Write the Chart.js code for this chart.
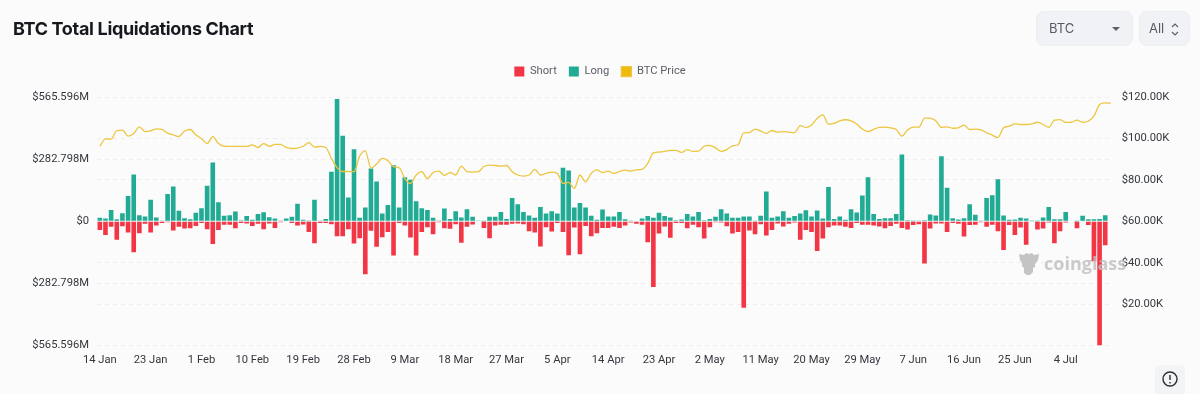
<!DOCTYPE html>
<html>
<head>
<meta charset="utf-8">
<title>BTC Total Liquidations Chart</title>
<script src="https://cdn.jsdelivr.net/npm/chart.js@4"></script>
<style>
  html, body { margin: 0; padding: 0; background: #fbfbfb; overflow: hidden; }
  #wrap { position: relative; width: 1200px; height: 394px; font-family: Inter, sans-serif; }
  canvas { position: absolute; left: 0; top: 0; }
  h1 { position: absolute; left: 13px; top: 17px; margin: 0; font-size: 18px; letter-spacing: -0.33px; line-height: 24px; font-weight: 700; color: #15181d; }
  .btn { position: absolute; top: 12px; height: 33px; line-height: 33px; background: #f0f2f5; border-radius: 7px; box-shadow: 0 0 0 1px #eceef1; color: #555b64; font-size: 13px; }
  .wm { position: absolute; left: 1017px; top: 251px; width: 100px; height: 26px; pointer-events: none; }
  .wm span { position: absolute; left: 27px; top: 0; font: 700 18px/24px "Open Sans", sans-serif; color: rgba(190,190,190,.8); }
  .wm svg { position: absolute; left: 0; top: 0; }
  .info { position: absolute; left: 1155px; top: 365px; width: 30px; height: 29px; background: #f2f4f6; border-radius: 5px 5px 0 0; }
</style>
</head>
<body>
<div id="wrap">
  <canvas id="liqChart" width="1200" height="394"></canvas>
  <h1>BTC Total Liquidations Chart</h1>
  <div class="btn" style="left:1037px;width:95px">
    <span style="position:absolute;left:12px">BTC</span>
    <svg style="position:absolute;left:74px;top:14px" width="10" height="6"><path d="M1 1h8L5 5z" fill="#5c626b"/></svg>
  </div>
  <div class="btn" style="left:1140px;width:49px">
    <span style="position:absolute;left:9px">All</span>
    <svg style="position:absolute;left:30px;top:10px" width="10" height="15" fill="none" stroke="#5c626b" stroke-width="1.2"><path d="M2 5l3-3 3 3M2 10l3 3 3-3"/></svg>
  </div>
  <div class="wm">
    <svg width="24" height="26"><path d="M2 3l5 1 2-2 3 1 3-1 2 2 5-1-1 6-3 4v3l-2 1v4l-3 3h-3l-3-2v-5l-2-2v-3L3 9z" fill="rgba(190,190,190,.9)"/></svg>
    <span>coinglass</span>
  </div>
  <div class="info">
    <svg width="30" height="29" fill="none" stroke="#2b2f36" stroke-width="1.4"><circle cx="15" cy="14" r="7"/><path d="M15 10v5M15 17v1.4"/></svg>
  </div>
</div>
<script>
const categories = [
  "14 Jan","15 Jan","16 Jan","17 Jan","18 Jan","19 Jan","20 Jan","21 Jan","22 Jan","23 Jan",
  "24 Jan","25 Jan","26 Jan","27 Jan","28 Jan","29 Jan","30 Jan","31 Jan","1 Feb","2 Feb",
  "3 Feb","4 Feb","5 Feb","6 Feb","7 Feb","8 Feb","9 Feb","10 Feb","11 Feb","12 Feb",
  "13 Feb","14 Feb","15 Feb","16 Feb","17 Feb","18 Feb","19 Feb","20 Feb","21 Feb","22 Feb",
  "23 Feb","24 Feb","25 Feb","26 Feb","27 Feb","28 Feb","1 Mar","2 Mar","3 Mar","4 Mar",
  "5 Mar","6 Mar","7 Mar","8 Mar","9 Mar","10 Mar","11 Mar","12 Mar","13 Mar","14 Mar",
  "15 Mar","16 Mar","17 Mar","18 Mar","19 Mar","20 Mar","21 Mar","22 Mar","23 Mar","24 Mar",
  "25 Mar","26 Mar","27 Mar","28 Mar","29 Mar","30 Mar","31 Mar","1 Apr","2 Apr","3 Apr",
  "4 Apr","5 Apr","6 Apr","7 Apr","8 Apr","9 Apr","10 Apr","11 Apr","12 Apr","13 Apr",
  "14 Apr","15 Apr","16 Apr","17 Apr","18 Apr","19 Apr","20 Apr","21 Apr","22 Apr","23 Apr",
  "24 Apr","25 Apr","26 Apr","27 Apr","28 Apr","29 Apr","30 Apr","1 May","2 May","3 May",
  "4 May","5 May","6 May","7 May","8 May","9 May","10 May","11 May","12 May","13 May",
  "14 May","15 May","16 May","17 May","18 May","19 May","20 May","21 May","22 May","23 May",
  "24 May","25 May","26 May","27 May","28 May","29 May","30 May","31 May","1 Jun","2 Jun",
  "3 Jun","4 Jun","5 Jun","6 Jun","7 Jun","8 Jun","9 Jun","10 Jun","11 Jun","12 Jun",
  "13 Jun","14 Jun","15 Jun","16 Jun","17 Jun","18 Jun","19 Jun","20 Jun","21 Jun","22 Jun",
  "23 Jun","24 Jun","25 Jun","26 Jun","27 Jun","28 Jun","29 Jun","30 Jun","1 Jul","2 Jul",
  "3 Jul","4 Jul","5 Jul","6 Jul","7 Jul","8 Jul","9 Jul","10 Jul","11 Jul","12 Jul"
];

// liquidations in $M
const longValues = [
  16,13,52,10,37,115,214,28,22,98,
  17,4,125,159,48,14,10,39,60,162,
  268,87,25,28,45,5,24,7,33,42,
  19,13,2,13,21,80,7,1,98,2,
  11,226,557,390,109,328,16,63,241,182,
  36,75,256,63,201,189,92,60,52,16,
  2,59,11,46,17,55,21,2,1,21,
  21,43,11,106,78,43,27,16,65,36,
  46,36,244,232,63,84,63,25,7,54,
  22,22,43,10,2,0,13,24,16,39,
  24,17,5,8,33,22,43,5,11,21,
  55,36,16,16,22,22,2,25,136,16,
  22,46,16,24,36,51,22,49,13,157,
  11,22,7,55,40,118,201,34,11,14,
  14,33,305,5,1,4,5,31,27,297,
  153,14,8,14,78,30,4,106,119,192,
  27,7,8,16,13,1,1,17,65,10,
  10,43,0,1,25,10,10,11,28,0
];
const shortValues = [
  39,62,25,84,22,51,141,54,11,51,
  19,8,4,42,25,33,31,21,8,36,
  103,39,16,16,31,7,10,21,11,36,
  10,30,4,2,8,19,14,48,100,7,
  8,13,68,68,36,101,77,241,43,116,
  72,48,156,8,19,74,156,48,27,59,
  4,31,34,13,98,25,14,2,30,77,
  19,16,16,11,10,13,45,51,115,27,
  46,7,49,154,28,150,21,68,54,30,
  30,25,30,19,5,11,16,95,299,55,
  24,75,8,7,31,16,27,78,27,4,
  5,22,55,49,394,42,59,13,65,39,
  10,24,11,5,84,39,48,135,78,27,
  19,19,25,30,7,16,16,19,24,31,
  21,11,30,37,17,13,192,33,10,10,
  49,8,11,69,17,16,4,25,16,45,
  131,17,62,28,107,2,37,33,5,100,
  45,5,2,31,2,17,182,565.6,109,0
];
// BTC price in $K
const priceValues = [
  96.3,99.9,99.7,103.9,104.1,101.2,102.5,105.7,103.4,103.7,
  104.7,104.4,102.6,101.8,101,103.7,104.4,101.8,99.9,97.6,
  100.9,97.6,96.3,96.2,96.2,96.2,96.2,97,95.7,97.6,
  96.3,97.2,97.2,95.7,95.2,95.4,96.3,98,95.9,96.2,
  95.7,90.4,86,84.1,84.1,84,91.5,94.1,85.7,87.7,
  90.4,89.3,86.4,85.9,80.7,78.3,82.4,84,80.7,83.6,
  84.3,82.2,83.6,82.4,86.7,84,83.8,84,86.5,87.2,
  87,86.7,87,84,82.4,81.9,82.4,85.1,82.4,83.2,
  83.8,83.2,78.3,78.8,75.9,82.4,79.1,83.2,84.9,83.6,
  84.3,83.2,84.1,84.8,84.3,84.9,85.1,88,93.1,93.5,
  93.8,94.3,94.3,93.3,94.7,93.8,93.9,96.3,96.7,95.5,
  93.8,94.7,96.5,97,102.8,102.9,104.6,103.7,102.5,103.9,
  103.1,103.4,103.1,102.9,106.3,105.4,106.6,109.7,111.5,107,
  107.3,108.6,109.1,108.6,107,104.6,103.4,104.4,105.4,105.5,
  105.2,104.4,101.2,104.1,105.5,105.5,109.9,109.9,108.6,105.4,
  105.7,105,105.2,106.5,104.4,104.6,104.2,102.8,101.7,100.5,
  105.2,106,107.1,106.8,106.8,107.1,107.9,106.8,105.4,108.9,
  109.2,107.8,107.9,108.9,107.9,108.4,110.8,116.5,117.3,117.1
];

const leftMax = 565.596;
const leftStep = 282.798;

const tickFont = { family: 'Roboto', size: 11.2 };
const tickColor = '#33373d';
const gridColor = '#eeeeee';

const legendGap = {
  id: 'legendGap',
  beforeInit(chart) {
    const fit = chart.legend.fit;
    chart.legend.fit = function () {
      fit.call(this);
      this.height += 10;
    };
  }
};

new Chart(document.getElementById('liqChart'), {
  type: 'bar',
  data: {
    labels: categories,
    datasets: [
      { label: 'Short', data: shortValues.map(v => -v), backgroundColor: '#f23645', order: 1 },
      { label: 'Long', data: longValues, backgroundColor: '#22ab94', order: 1 },
      {
        type: 'line', label: 'BTC Price', data: priceValues, yAxisID: 'price',
        borderColor: '#ecc640', backgroundColor: '#f0b90b', borderWidth: 1.3,
        pointRadius: 0, cubicInterpolationMode: 'monotone', order: 0
      }
    ]
  },
  plugins: [legendGap],
  options: {
    responsive: false,
    animation: false,
    barPercentage: 0.82,
    categoryPercentage: 1,
    layout: { padding: { top: 54, left: 0, right: 0, bottom: 0 } },
    plugins: {
      tooltip: { enabled: false },
      legend: {
        position: 'top',
        labels: {
          boxWidth: 10, boxHeight: 10, padding: 12, color: '#5a5f66',
          font: { family: 'Roboto', size: 11.2 },
          sort: (a, b) => a.datasetIndex - b.datasetIndex
        }
      }
    },
    scales: {
      x: {
        stacked: true,
        grid: { display: false },
        border: { display: false },
        afterFit: s => { s.height = 48.5; },
        ticks: {
          autoSkip: false, maxRotation: 0, padding: 0, color: tickColor, font: tickFont,
          callback: (v, i) => (i % 9 === 0 ? categories[i] : '')
        }
      },
      y: {
        stacked: true,
        min: -leftMax,
        max: leftMax,
        afterFit: s => { s.width = 97; },
        afterBuildTicks: s => { s.ticks = [-2, -1, 0, 1, 2].map(k => ({ value: k * leftStep })); },
        border: { display: false, dash: [4, 4] },
        grid: {
          color: c => (c.tick.value === 0 ? '#c9c9c9' : gridColor),
          drawTicks: false
        },
        ticks: {
          padding: 8, color: tickColor, font: tickFont,
          callback: v => (Math.abs(v) < 1e-6 ? '$0' : '$' + Math.abs(v).toFixed(3) + 'M')
        }
      },
      price: {
        position: 'right',
        min: 0,
        max: 120,
        afterFit: s => { s.width = 1200 - 1113.7; },
        border: { display: false, dash: [4, 4] },
        grid: { color: gridColor, drawTicks: false },
        ticks: {
          stepSize: 20, padding: 8, color: tickColor, font: tickFont,
          callback: v => (v === 0 ? '' : '$' + v.toFixed(2) + 'K')
        }
      }
    }
  }
});
</script>
</body>
</html>
